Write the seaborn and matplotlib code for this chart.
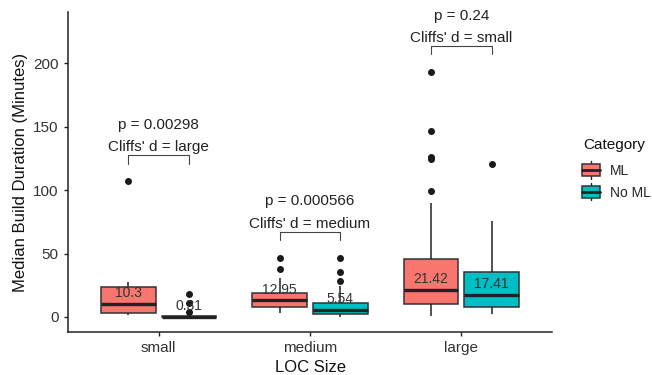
import numpy as np
import pandas as pd
import matplotlib
matplotlib.use("Agg")
import matplotlib.pyplot as plt
import seaborn as sns
from matplotlib.legend_handler import HandlerBase
from matplotlib.patches import Rectangle, Patch
from matplotlib.lines import Line2D

# LOC size groups and categories
sizes = ["small", "medium", "large"]
categories = ["ML", "No ML"]
colors = ["#F8766D", "#00BFC4"]

# median build durations (minutes)
small_ml = [1.5, 2.2, 3.1, 6.0, 10.3, 15.0, 23.6, 27.6, 107.0]
small_noml = [0.0, 0.02, 0.05, 0.1, 0.15, 0.25, 0.31, 0.45, 0.7, 1.1, 4.0, 11.0, 18.0]
medium_ml = [3.1, 5.0, 6.5, 7.9, 10.0, 11.5, 12.95, 14.5, 16.5, 18.9, 30.7, 37.8, 46.5]
medium_noml = [0.3, 0.8, 1.3, 1.8, 2.2, 3.0, 4.0, 4.8, 5.54, 6.5, 8.0, 9.5, 11.2,
               24.2, 28.3, 35.4, 46.5]
large_ml = [0.8, 2.5, 4.5, 6.5, 8.0, 9.2, 10.2, 12.0, 14.0, 16.5, 18.5, 20.0, 21.42,
            24.0, 28.0, 33.0, 37.0, 41.0, 45.7, 90.0, 99.5, 124.4, 126.0, 147.0, 193.0]
large_noml = [2.4, 5.0, 7.9, 12.0, 17.41, 25.0, 35.4, 75.6, 121.0]

# test results per LOC size
p_labels = ["p = 0.00298", "p = 0.000566", "p = 0.24"]
cliffs_labels = ["Cliffs' d = large", "Cliffs' d = medium", "Cliffs' d = small"]

groups = {
    ("small", "ML"): small_ml, ("small", "No ML"): small_noml,
    ("medium", "ML"): medium_ml, ("medium", "No ML"): medium_noml,
    ("large", "ML"): large_ml, ("large", "No ML"): large_noml,
}
rows = []
for (s, c), vals in groups.items():
    for v in vals:
        rows.append({"LOC Size": s, "Category": c, "Duration": v})
df = pd.DataFrame(rows)

sns.set_style("ticks")
plt.rcParams["font.family"] = ["Liberation Sans", "DejaVu Sans"]

fig, ax = plt.subplots(figsize=(6.52, 3.75), dpi=100)
fig.subplots_adjust(left=0.104, right=0.847, bottom=0.115, top=0.968)

sns.boxplot(data=df, x="LOC Size", y="Duration", hue="Category",
            order=sizes, hue_order=categories, palette=colors, saturation=1,
            width=0.8, gap=0.1, linecolor="#333333", linewidth=1.1,
            showcaps=False, fliersize=4,
            flierprops=dict(marker="o", markerfacecolor="#1a1a1a", markeredgecolor="#1a1a1a"),
            medianprops=dict(linewidth=2.4, color="#222222"),
            whiskerprops=dict(color="#222222"),
            legend=False, ax=ax)

# median labels and significance brackets
offsets = [-0.2, 0.2]
for i, s in enumerate(sizes):
    for j, c in enumerate(categories):
        m = np.median(groups[(s, c)])
        ax.annotate(f"{round(m, 2):g}", (i + offsets[j], m), xytext=(0, 7.5),
                    textcoords="offset points", ha="center", va="center",
                    fontsize=10, color="#333333")
    top = max(max(groups[(s, c)]) for c in categories) + 20.5
    ax.plot([i - 0.2, i - 0.2, i + 0.2, i + 0.2], [top - 6.5, top, top, top - 6.5],
            color="#444444", lw=0.8)
    ax.annotate(cliffs_labels[i], (i, top), xytext=(0, 6), textcoords="offset points",
                ha="center", va="center", fontsize=11, color="#222222")
    ax.annotate(p_labels[i], (i, top), xytext=(0, 22), textcoords="offset points",
                ha="center", va="center", fontsize=11, color="#222222")

ax.set_xlim(-0.6, 2.6)
ax.set_ylim(-11.8, 240.5)
ax.set_yticks([0, 50, 100, 150, 200])
ax.set_xlabel("LOC Size", fontsize=12, color="#111111")
ax.set_ylabel("Median Build Duration (Minutes)", fontsize=12, color="#111111")
ax.tick_params(labelsize=11, labelcolor="#333333", length=3, width=1, color="#222222")
for sp in ["left", "bottom"]:
    ax.spines[sp].set_color("#222222")
    ax.spines[sp].set_linewidth(1.1)
sns.despine(ax=ax)


class BoxKey(HandlerBase):
    def create_artists(self, legend, orig_handle, xdescent, ydescent, width, height, fontsize, trans):
        fc = orig_handle.get_facecolor()
        x0, y0 = -xdescent, -ydescent
        wl = Line2D([x0 + width / 2] * 2, [y0 - 0.2 * height, y0 + 1.2 * height],
                    color="#222222", lw=1, transform=trans)
        box = Rectangle((x0, y0), width, height, facecolor=fc, edgecolor="#333333",
                        lw=1.1, transform=trans)
        med = Line2D([x0, x0 + width], [y0 + height / 2] * 2, color="#222222", lw=2,
                     transform=trans)
        return [wl, box, med]


handles = [Patch(facecolor=col, label=c) for c, col in zip(categories, colors)]
fig.legend(handles=handles, labels=categories,
           handler_map={Patch: BoxKey()}, loc="upper left",
           bbox_to_anchor=(0.893, 0.563), frameon=False, fontsize=10,
           handlelength=1.3, handleheight=1.0,
           labelspacing=0.55, handletextpad=0.7,
           borderpad=0, borderaxespad=0)
fig.text(0.894, 1 - 145 / 375, "Category", fontsize=11, color="#111111",
         ha="left", va="center")

fig.savefig("out.png", dpi=100)
